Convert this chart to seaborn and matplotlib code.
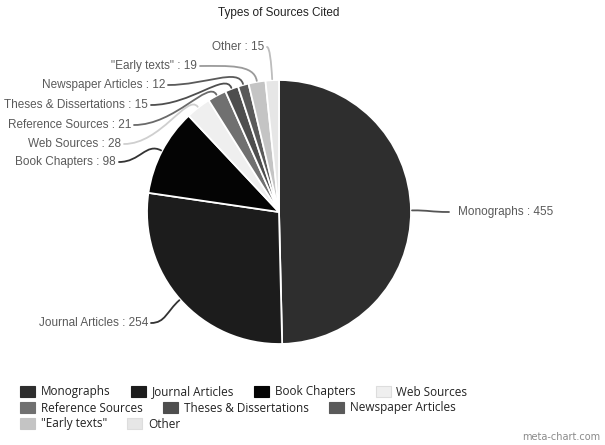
import numpy as np
import matplotlib
matplotlib.use("Agg")
import matplotlib.pyplot as plt
from matplotlib.path import Path
from matplotlib.patches import PathPatch, Patch
import seaborn as sns

# ---- data ----
categories = ["Monographs", "Journal Articles", "Book Chapters", "Web Sources",
              "Reference Sources", "Theses & Dissertations", "Newspaper Articles",
              '"Early texts"', "Other"]
counts = [455, 254, 98, 28, 21, 15, 12, 19, 15]

# ---- styling ----
slice_colors = ["#2e2e2e", "#1c1c1c", "#040404", "#efefef", "#707070",
                "#4e4e4e", "#5a5a5a", "#c4c4c4", "#e6e6e6"]
leader_colors = ["#555555", "#333333", "#333333", "#cfcfcf", "#6a6a6a",
                 "#4e4e4e", "#5a5a5a", "#9a9a9a", "#bdbdbd"]
# label anchors in pixel coordinates (x, y from top) and text alignment
label_anchor = [(452, 212), (148, 323), (116, 162), (121, 144), (131, 125),
                (148, 105), (165, 85), (197, 66), (264, 47)]
label_align = ["left", "right", "right", "right", "right",
               "right", "right", "right", "right"]

W, H = 605, 445
CX, CY, R = 279, 212, 132

sns.set_theme(style="white")
plt.rcParams["font.family"] = ["DejaVu Sans"]

fig = plt.figure(figsize=(W / 100, H / 100), dpi=100)
fig.patch.set_facecolor("white")
ax = fig.add_axes([0, 0, 1, 1])

wedges, _ = ax.pie(counts, colors=slice_colors, startangle=90, counterclock=False,
                   center=(CX, H - CY), radius=R, frame=True,
                   wedgeprops=dict(edgecolor="white", linewidth=1.3))
ax.set_xlim(0, W)
ax.set_ylim(0, H)
ax.set_aspect("equal")
ax.axis("off")

# curved leader lines and value labels
for w, name, n, (px, py), ha, lc in zip(wedges, categories, counts,
                                        label_anchor, label_align, leader_colors):
    mid = np.deg2rad((w.theta1 + w.theta2) / 2)
    d = np.array([np.cos(mid), np.sin(mid)])
    c = np.array([CX, H - CY], dtype=float)
    p3 = c + (R + 1) * d
    p2 = c + (R + 18) * d
    sx = 3 if ha == "right" else -3
    p0 = np.array([px + sx, H - py], dtype=float)
    k = 0.5 * abs(p3[0] - p0[0])
    p1 = p0 + np.array([k if ha == "right" else -k, 0])
    path = Path([p0, p1, p2, p3],
                [Path.MOVETO, Path.CURVE4, Path.CURVE4, Path.CURVE4])
    ax.add_patch(PathPatch(path, facecolor="none", edgecolor=lc, lw=1.3,
                           capstyle="round"))
    ax.text(px if ha == "right" else px + 6, H - py, f"{name} : {n}",
            ha=ha, va="center", fontsize=8.5, color="#5a5a5a",
            family="Liberation Sans")

fig.text(CX / W, 1 - 13 / H, "Types of Sources Cited", ha="center", va="center",
         fontsize=8.5, color="#222222", family="Liberation Sans")

# legend, flowed over three rows
fs = 8.5
fpx = fs * 100 / 72
handles = [Patch(facecolor=col, edgecolor="#dddddd" if i in (3, 8) else col,
                 linewidth=0.8) for i, col in enumerate(slice_colors)]
rows = [(0, 4, 392), (4, 7, 408), (7, 9, 424)]
for a, b, ry in rows:
    leg = fig.legend(handles=handles[a:b], labels=categories[a:b],
                     loc="center left", bbox_to_anchor=(20 / W, 1 - ry / H),
                     ncol=b - a, frameon=False, borderpad=0, borderaxespad=0,
                     prop=dict(family="Open Sans", size=fs),
                     handlelength=15 / fpx, handleheight=12 / fpx,
                     handletextpad=6 / fpx, columnspacing=20 / fpx)
    for t in leg.get_texts():
        t.set_color("#222222")

fig.text(600 / W, 1 - 437 / H, "meta-chart.com", ha="right", va="center",
         fontsize=7, color="#8a8a8a")

fig.savefig("out.png", dpi=100, facecolor="white")
